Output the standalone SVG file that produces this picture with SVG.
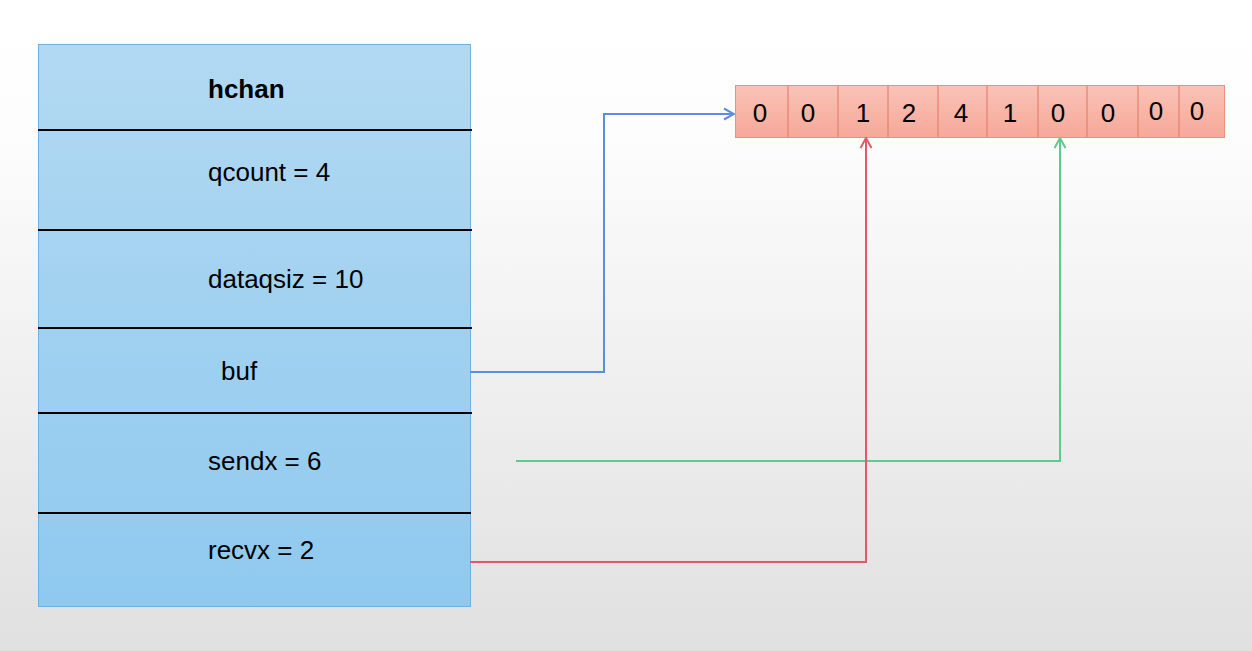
<svg xmlns="http://www.w3.org/2000/svg" width="1252" height="651" viewBox="0 0 1252 651">
<defs>
<linearGradient id="bg" x1="0" y1="0" x2="0" y2="1">
<stop offset="0" stop-color="#ffffff"/>
<stop offset="0.2" stop-color="#fdfdfd"/>
<stop offset="1" stop-color="#e0e0e0"/>
</linearGradient>
<linearGradient id="boxg" x1="0" y1="0" x2="0" y2="1">
<stop offset="0" stop-color="#b2d9f2"/>
<stop offset="1" stop-color="#8fc9ef"/>
</linearGradient>
<linearGradient id="arrg" x1="0" y1="0" x2="0" y2="1">
<stop offset="0" stop-color="#f9c3b7"/>
<stop offset="1" stop-color="#f6a898"/>
</linearGradient>
<marker id="mb" viewBox="0 0 14 14" refX="13" refY="7" markerWidth="14" markerHeight="14" markerUnits="userSpaceOnUse" orient="auto">
<path d="M3,1.5 L13,7 L3,12.5" fill="none" stroke="#5b8ede" stroke-width="2"/>
</marker>
<marker id="mg" viewBox="0 0 14 14" refX="13" refY="7" markerWidth="14" markerHeight="14" markerUnits="userSpaceOnUse" orient="auto">
<path d="M3,1.5 L13,7 L3,12.5" fill="none" stroke="#5ccb8f" stroke-width="2"/>
</marker>
<marker id="mr" viewBox="0 0 14 14" refX="13" refY="7" markerWidth="14" markerHeight="14" markerUnits="userSpaceOnUse" orient="auto">
<path d="M3,1.5 L13,7 L3,12.5" fill="none" stroke="#e05a6c" stroke-width="2"/>
</marker>
</defs>
<style>
.t{font-family:"Liberation Sans",Arial,sans-serif;font-size:26px;fill:#000}
.b{font-weight:bold}
.n{font-family:"Liberation Sans",Arial,sans-serif;font-size:26px;fill:#000;text-anchor:middle}
.div{stroke:#000;stroke-width:2}
.cell{stroke:#e4806e;stroke-width:1.2}
.c{fill:none;stroke-width:2}
</style>
<rect x="0" y="0" width="1252" height="651" fill="url(#bg)"/>
<g id="hchan">
<rect x="38.5" y="44.5" width="432" height="562" fill="url(#boxg)" stroke="#6fb0e0" stroke-width="1"/>
<line class="div" x1="38" y1="130" x2="472" y2="130"/>
<line class="div" x1="38" y1="230" x2="472" y2="230"/>
<line class="div" x1="38" y1="328" x2="472" y2="328"/>
<line class="div" x1="38" y1="413" x2="472" y2="413"/>
<line class="div" x1="38" y1="513" x2="471" y2="513"/>
<text class="t b" x="208" y="98">hchan</text>
<text class="t" x="208" y="181">qcount = 4</text>
<text class="t" x="208" y="288">dataqsiz = 10</text>
<text class="t" x="221" y="380">buf</text>
<text class="t" x="208" y="470">sendx = 6</text>
<text class="t" x="208" y="559">recvx = 2</text>
</g>
<g id="buffer">
<rect x="735.5" y="85.5" width="489" height="52" fill="url(#arrg)" stroke="#ec8f7e" stroke-width="1"/>
<line class="cell" x1="788" y1="86" x2="788" y2="137"/>
<line class="cell" x1="838" y1="86" x2="838" y2="137"/>
<line class="cell" x1="888" y1="86" x2="888" y2="137"/>
<line class="cell" x1="938" y1="86" x2="938" y2="137"/>
<line class="cell" x1="987" y1="86" x2="987" y2="137"/>
<line class="cell" x1="1038" y1="86" x2="1038" y2="137"/>
<line class="cell" x1="1087" y1="86" x2="1087" y2="137"/>
<line class="cell" x1="1138" y1="86" x2="1138" y2="137"/>
<line class="cell" x1="1179" y1="86" x2="1179" y2="137"/>
<text class="n" x="760" y="122">0</text>
<text class="n" x="808" y="122">0</text>
<text class="n" x="863" y="122">1</text>
<text class="n" x="909" y="122">2</text>
<text class="n" x="961" y="122">4</text>
<text class="n" x="1010" y="122">1</text>
<text class="n" x="1058" y="122">0</text>
<text class="n" x="1108" y="122">0</text>
<text class="n" x="1156" y="120">0</text>
<text class="n" x="1197" y="120">0</text>
</g>
<g id="connectors">
<path class="c" stroke="#5b8ede" d="M470,372 H604 V114 H734" marker-end="url(#mb)"/>
<path class="c" stroke="#5ccb8f" d="M516,461 H1060 V138" marker-end="url(#mg)"/>
<path class="c" stroke="#e05a6c" d="M470,562 H866 V138" marker-end="url(#mr)"/>
</g>
</svg>
